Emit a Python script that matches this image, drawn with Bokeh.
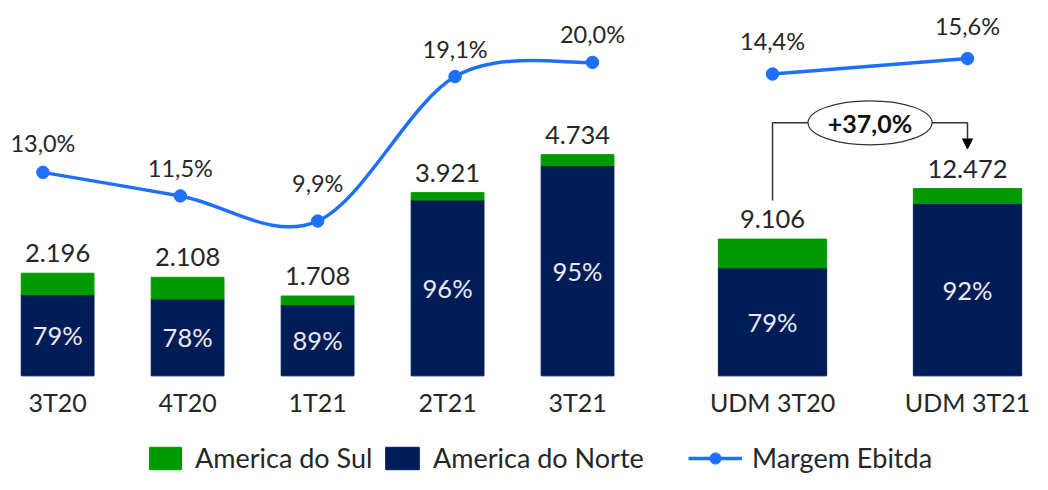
from bokeh.plotting import figure
from bokeh.models import Range1d, Legend, LegendItem, Arrow, NormalHead, ColumnDataSource
from bokeh.core.properties import value
from bokeh.embed import file_html
from bokeh.resources import INLINE

# ---------------- data ----------------
categories_q = ["3T20", "4T20", "1T21", "2T21", "3T21"]
ebitda_q = [2196, 2108, 1708, 3921, 4734]
norte_pct_q = [79, 78, 89, 96, 95]
margem_q = [13.0, 11.5, 9.9, 19.1, 20.0]

categories_u = ["UDM 3T20", "UDM 3T21"]
ebitda_u = [9106, 12472]
norte_pct_u = [79, 92]
margem_u = [14.4, 15.6]

# ---------------- style / layout ----------------
GREEN = "#009A00"
NAVY = "#001C56"
BLUE = "#1F6FFF"
TXT = "#262626"
FONT = value("Lato")

W, H = 1032, 474          # figure size
RW, RH = 1048, 490        # reference layout extent (px)
BASE = 388                # baseline (reference px from top)
Q_SCALE = 0.0483          # px per unit, quarterly bars
U_SCALE = 0.01552         # px per unit, UDM bars
CAT_PX = 132              # px per category unit
X0_PX = 58                # px of first category centre

def fmt_int(v):
    return f"{v:,}".replace(",", ".")

def fmt_pct(v):
    return f"{v:.1f}".replace(".", ",") + "%"

xq = [float(i) for i in range(len(categories_q))]
xu = [5.5 + 1.5 * j for j in range(len(categories_u))]
LINE_X0, LINE_DX = -0.113, 1.057
lxq = [LINE_X0 + LINE_DX * i for i in range(len(categories_q))]
LABEL_DY_Q = [-29, -28, -38, -28, -28]

p = figure(width=W, height=H, output_backend="svg", toolbar_location=None,
           x_range=Range1d(-X0_PX / CAT_PX, (RW - X0_PX) / CAT_PX),
           y_range=Range1d(-(RH - BASE) / Q_SCALE, BASE / Q_SCALE),
           x_axis_type=None, y_axis_type=None, min_border=0)
p.extra_y_ranges = {
    "udm": Range1d(-(RH - BASE) / U_SCALE, BASE / U_SCALE),
    "mq": Range1d(23.94 - RH / 16.24, 23.94),
    "mu": Range1d(20.1 - RH / 13.333, 20.1),
}
p.grid.visible = False
p.outline_line_color = None
p.background_fill_color = "white"
p.border_fill_color = "white"

# ---------------- bars ----------------
norte_q = [t * pc / 100 for t, pc in zip(ebitda_q, norte_pct_q)]
norte_u = [t * pc / 100 for t, pc in zip(ebitda_u, norte_pct_u)]

srcq = ColumnDataSource(dict(x=xq, tot=ebitda_q, norte=norte_q, mid=[v / 2 for v in norte_q],
                             cat=categories_q, vlab=[fmt_int(v) for v in ebitda_q],
                             plab=[f"{v}%" for v in norte_pct_q]))
srcu = ColumnDataSource(dict(x=xu, tot=ebitda_u, norte=norte_u, mid=[v / 2 for v in norte_u],
                             cat=categories_u, vlab=[fmt_int(v) for v in ebitda_u],
                             plab=[f"{v}%" for v in norte_pct_u]))

r_norte = p.vbar(x="x", bottom=0, top="norte", width=0.56, source=srcq,
                 fill_color=NAVY, line_color=NAVY)
r_sul = p.vbar(x="x", bottom="norte", top="tot", width=0.56, source=srcq,
               fill_color=GREEN, line_color=GREEN)
p.vbar(x="x", bottom=0, top="norte", width=0.833, source=srcu, y_range_name="udm",
       fill_color=NAVY, line_color=NAVY)
p.vbar(x="x", bottom="norte", top="tot", width=0.833, source=srcu, y_range_name="udm",
       fill_color=GREEN, line_color=GREEN)

for src, rn in ((srcq, "default"), (srcu, "udm")):
    p.text(x="x", y="tot", text="vlab", source=src, y_range_name=rn,
           text_align="center", text_baseline="alphabetic", y_offset=-20,
           text_font=FONT, text_font_size="25.5px", text_color=TXT)
    p.text(x="x", y="mid", text="plab", source=src, y_range_name=rn,
           text_align="center", text_baseline="middle",
           text_font=FONT, text_font_size="25.5px", text_color="#EAEAF2")
    p.text(x="x", y=0, text="cat", source=src, y_range_name=rn,
           text_align="center", text_baseline="alphabetic", y_offset=26,
           text_font=FONT, text_font_size="25px", text_color=TXT)

# ---------------- smoothed quarterly margin line (Catmull-Rom bezier) ----------------
pts = list(zip(lxq, margem_q))
bx0, by0, bx1, by1, bcx0, bcy0, bcx1, bcy1 = ([] for _ in range(8))
for i in range(len(pts) - 1):
    p0 = pts[i - 1] if i > 0 else pts[i]
    p1, p2 = pts[i], pts[i + 1]
    p3 = pts[i + 2] if i + 2 < len(pts) else pts[i + 1]
    bx0.append(p1[0]); by0.append(p1[1]); bx1.append(p2[0]); by1.append(p2[1])
    bcx0.append(p1[0] + (p2[0] - p0[0]) / 6); bcy0.append(p1[1] + (p2[1] - p0[1]) / 6)
    bcx1.append(p2[0] - (p3[0] - p1[0]) / 6); bcy1.append(p2[1] - (p3[1] - p1[1]) / 6)
p.bezier(x0=bx0, y0=by0, x1=bx1, y1=by1, cx0=bcx0, cy0=bcy0, cx1=bcx1, cy1=bcy1,
         y_range_name="mq", line_color=BLUE, line_width=3.5)
p.scatter(x=lxq, y=margem_q, y_range_name="mq", size=12.5, fill_color=BLUE, line_color=BLUE)
p.text(x=lxq, y=margem_q, text=[fmt_pct(v) for v in margem_q], y_range_name="mq",
       text_align="center", text_baseline="alphabetic", y_offset=LABEL_DY_Q,
       text_font=FONT, text_font_size="23.5px", text_color=TXT)

r_ml = p.line(x=xu, y=margem_u, y_range_name="mu", line_color=BLUE, line_width=3.5)
r_ms = p.scatter(x=xu, y=margem_u, y_range_name="mu", size=12.5, fill_color=BLUE, line_color=BLUE)
p.text(x=xu, y=margem_u, text=[fmt_pct(v) for v in margem_u], y_range_name="mu",
       text_align="center", text_baseline="alphabetic", y_offset=-33,
       text_font=FONT, text_font_size="23.5px", text_color=TXT)

# ---------------- growth annotation ----------------
growth = (ebitda_u[1] / ebitda_u[0] - 1) * 100
y_start = ebitda_u[0] + 40 / U_SCALE
y_br = max(ebitda_u) + 68 / U_SCALE
y_tip = ebitda_u[1] + 41 / U_SCALE
xm = (xu[0] + xu[1]) / 2
p.line(x=[xu[0], xu[0], xu[1]], y=[y_start, y_br, y_br], y_range_name="udm",
       line_color="#333333", line_width=1.5)
p.add_layout(Arrow(x_start=xu[1], y_start=y_br, x_end=xu[1], y_end=y_tip, y_range_name="udm",
                   line_color="#333333", line_width=1.5,
                   end=NormalHead(size=10, fill_color="black", line_color="black")))
p.ellipse(x=[xm], y=[y_br], width=124, height=44, width_units="screen", height_units="screen",
          y_range_name="udm", fill_color="white", line_color="#333333", line_width=1.2)
p.text(x=[xm], y=[y_br], text=["+" + fmt_pct(growth)], y_range_name="udm",
       text_align="center", text_baseline="middle", text_font=FONT,
       text_font_size="25px", text_font_style="bold", text_color="#111111")

# ---------------- legends ----------------
def mk_legend(items, loc, gw, gh):
    lg = Legend(items=items, location=loc, orientation="horizontal",
                glyph_width=gw, glyph_height=gh, label_standoff=10, padding=0, margin=0,
                border_line_alpha=0, background_fill_alpha=0,
                label_text_font="Lato", label_text_font_size="27px", label_text_color=TXT)
    p.add_layout(lg, "center")

mk_legend([LegendItem(label="America do Sul", renderers=[r_sul])], (145, 0), 40, 28)
mk_legend([LegendItem(label="America do Norte", renderers=[r_norte])], (381, 0), 42, 28)
mk_legend([LegendItem(label="Margem Ebitda", renderers=[r_ml, r_ms])], (688, 0), 54, 28)

open("out.html", "w").write(file_html(p, INLINE))
